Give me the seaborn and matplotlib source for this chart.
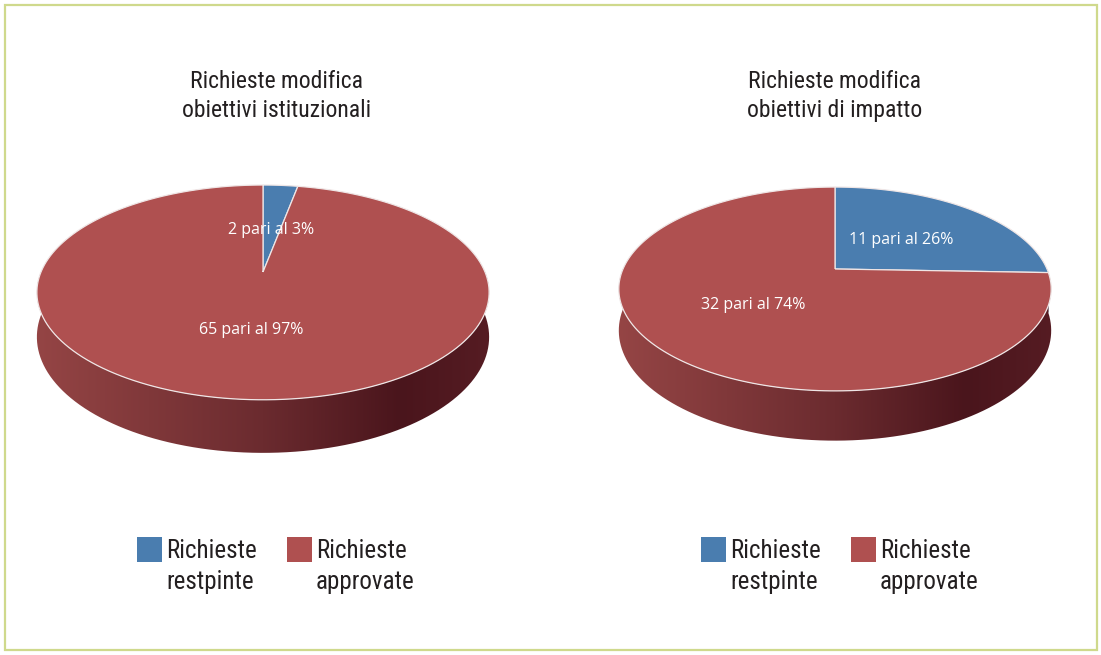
"""
Richieste modifica obiettivi - due torte 3D
"""

import numpy as np
import matplotlib
matplotlib.use("Agg")
import matplotlib.pyplot as plt
import seaborn as sns
from matplotlib.path import Path
from matplotlib.patches import PathPatch, Rectangle
from matplotlib.colors import LinearSegmentedColormap

# ---- dati ----
categories = ["Richieste\nrestpinte", "Richieste\napprovate"]
titles = ["Richieste modifica\nobiettivi istituzionali",
          "Richieste modifica\nobiettivi di impatto"]
counts_istituzionali = [2, 65]
counts_impatto = [11, 32]

# ---- stile ----
sns.set_style("white")
TITLE_FONT = ["Roboto Condensed", "Liberation Sans Narrow", "Roboto", "DejaVu Sans"]
LABEL_FONT = ["Open Sans", "DejaVu Sans"]
top_colors = ["#4a7daf", "#af5050"]
side_colors = [
    ["#3d6a96", "#2c4d6e", "#1d3550", "#243f5c"],
    ["#954545", "#6b2b2f", "#4a151c", "#561c23"],
]
side_stops = [0.0, 0.5, 0.8, 1.0]

W, H = 1101, 655
fig = plt.figure(figsize=(W / 100, H / 100), dpi=100)
ax = fig.add_axes([0, 0, 1, 1])

# geometria (pixel): centro, semiassi, prospettiva, spessore
geoms = [
    dict(cx=263, cy=272, a=222, b=103.5, k=0.19, h=43, title_x=277,
         legend_x=137, label_r=[0.44, 0.51]),
    dict(cx=835, cy=269, a=212, b=98, k=0.196, h=40, title_x=835,
         legend_x=701, label_r=[0.46, 0.50]),
]


def proj(g, u, v, z=0.0):
    w = 1 + g["k"] * v
    return g["cx"] + g["a"] * u / w, g["cy"] - (g["b"] * v + z) / w


def arc(g, t1, t2, z=0.0, n=200):
    t = np.radians(np.linspace(t1, t2, n))
    return proj(g, np.cos(t), np.sin(t), z)


def draw_pie(values, g):
    wedges, _ = ax.pie(values, startangle=90, counterclock=False,
                       colors=top_colors, radius=1, center=(0, 0))
    angles = [(w.theta1, w.theta2) for w in wedges]
    for w in wedges:
        w.remove()

    x_lo, x_hi = g["cx"] - g["a"] * 1.03, g["cx"] + g["a"] * 1.03
    # fianco (solo la parte frontale)
    for i, (t1, t2) in enumerate(angles):
        for f1, f2 in [(-540, -360), (-180, 0), (180, 360)]:
            lo, hi = max(t1, f1), min(t2, f2)
            if hi <= lo:
                continue
            xt, yt = arc(g, lo, hi)
            xb, yb = arc(g, hi, lo, z=-g["h"])
            verts = np.column_stack([np.r_[xt, xb], np.r_[yt, yb]])
            clip = PathPatch(Path(verts), facecolor="none", edgecolor="none")
            ax.add_patch(clip)
            cmap = LinearSegmentedColormap.from_list(
                f"side{i}", list(zip(side_stops, side_colors[i])))
            grad = np.linspace(0, 1, 256).reshape(1, -1)
            im = ax.imshow(grad, cmap=cmap, aspect="auto",
                           extent=(x_lo, x_hi, H, 0), zorder=1,
                           interpolation="bilinear")
            im.set_clip_path(clip)

    # faccia superiore
    for i, (t1, t2) in enumerate(angles):
        xa, ya = arc(g, t1, t2)
        cx, cy = proj(g, 0, 0)
        verts = np.column_stack([np.r_[cx, xa, cx], np.r_[cy, ya, cy]])
        ax.add_patch(PathPatch(Path(verts), facecolor=top_colors[i],
                               edgecolor="#efe6e6", lw=0.9, zorder=2))

    # etichette
    total = sum(values)
    for i, (t1, t2) in enumerate(angles):
        mid = np.radians((t1 + t2) / 2)
        r = g["label_r"][i]
        x, y = proj(g, r * np.cos(mid), r * np.sin(mid))
        pct = round(values[i] / total * 100)
        ax.text(x, y, f"{values[i]} pari al {pct}%", color="white",
                fontsize=11.5, family=LABEL_FONT, ha="center", va="center",
                zorder=3)


for values, g, title in zip([counts_istituzionali, counts_impatto], geoms, titles):
    draw_pie(values, g)
    ax.text(g["title_x"], 96, title, ha="center", va="center", fontsize=17,
            family=TITLE_FONT, color="#231f20", linespacing=1.3)
    # legenda
    for j, lab in enumerate(categories):
        lx = g["legend_x"] + j * 150
        ax.add_patch(Rectangle((lx, 537), 25, 25, facecolor=top_colors[j],
                               edgecolor="none", zorder=2))
        ax.text(lx + 29, 539, lab, ha="left", va="top", fontsize=18,
                family=TITLE_FONT, color="#231f20", linespacing=1.35)

# cornice
ax.add_patch(Rectangle((5, 5), W - 9, H - 10, facecolor="none",
                       edgecolor="#cfd98c", lw=1.6, zorder=5))

ax.set_aspect("auto")
ax.set_xlim(0, W)
ax.set_ylim(H, 0)
ax.set_axis_off()

fig.savefig("out.png", dpi=100)
